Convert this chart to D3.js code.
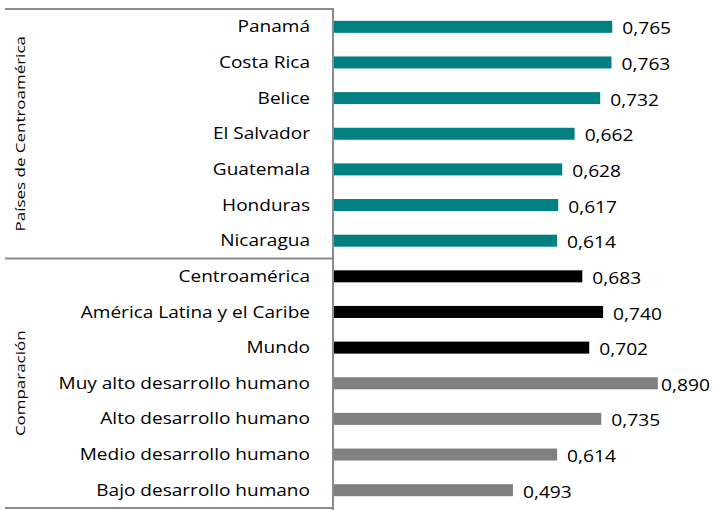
<!DOCTYPE html>
<html>
<head>
<meta charset="utf-8">
<script src="https://cdn.jsdelivr.net/npm/d3@7"></script>
<style>
  body { margin: 0; background: #fff; }
  text { font-family: "Open Sans", sans-serif; fill: #000; }
</style>
</head>
<body>
<div id="chart"></div>
<script>
const width = 715;
const height = 510;

// data
const countries = ['Panamá', 'Costa Rica', 'Belice', 'El Salvador', 'Guatemala', 'Honduras', 'Nicaragua'];
const countryValues = [0.765, 0.763, 0.732, 0.662, 0.628, 0.617, 0.614];
const regions = ['Centroamérica', 'América Latina y el Caribe', 'Mundo'];
const regionValues = [0.683, 0.740, 0.702];
const levels = ['Muy alto desarrollo humano', 'Alto desarrollo humano', 'Medio desarrollo humano', 'Bajo desarrollo humano'];
const levelValues = [0.890, 0.735, 0.614, 0.493];
const groups = ['Países de Centroamérica', 'Comparación'];

const rows = [];
countries.forEach((c, i) => rows.push({name: c, value: countryValues[i], kind: 'pais', group: 0}));
regions.forEach((c, i) => rows.push({name: c, value: regionValues[i], kind: 'region', group: 1}));
levels.forEach((c, i) => rows.push({name: c, value: levelValues[i], kind: 'nivel', group: 1}));

const colors = {pais: '#008080', region: '#000000', nivel: '#808080'};
const axisX = 333;
const plotTop = 9, plotBottom = 508;
const lineColor = '#8c8c8c';
const valScale = 1.2;

const svg = d3.select('#chart').append('svg')
  .attr('width', width)
  .attr('height', height);

const x = d3.scaleLinear()
  .domain([0, 1])
  .range([axisX, axisX + 365]);

const y = d3.scaleBand()
  .domain(rows.map(d => d.name))
  .range([plotTop, plotBottom])
  .paddingInner(0.66)
  .paddingOuter(0.33);

// bars
svg.selectAll('rect.bar')
  .data(rows)
  .join('rect')
  .attr('class', 'bar')
  .attr('x', x(0))
  .attr('y', d => y(d.name) + (y.bandwidth() - 12) / 2)
  .attr('width', d => x(d.value) - x(0))
  .attr('height', 12)
  .attr('fill', d => colors[d.kind]);

// value labels (text in the original is wide, so stretch a bit)
svg.selectAll('text.val')
  .data(rows)
  .join('text')
  .attr('class', 'val')
  .attr('dy', '0.35em')
  .style('font-size', '16px')
  .text(d => d3.format('.3f')(d.value).replace('.', ','))
  .attr('transform', function(d) {
    const w = this.getComputedTextLength() * valScale;
    // pull the label in when it would run off the right edge
    const lx = Math.min(x(d.value) + 10, width - 5 - w);
    return `translate(${lx},${y(d.name) + y.bandwidth() / 2 + 2}) scale(${valScale},1)`;
  });

// category labels
svg.selectAll('text.cat')
  .data(rows)
  .join('text')
  .attr('class', 'cat')
  .attr('transform', d => `translate(310,${y(d.name) + y.bandwidth() / 2}) scale(1.19,1)`)
  .attr('dy', '0.35em')
  .attr('text-anchor', 'end')
  .style('font-size', '16px')
  .text(d => d.name);

// frame: axis line and group separators
const step = y.step();
const sepY = [plotTop, y(rows[countries.length].name) - y.paddingInner() * step / 2, plotBottom];

svg.append('line')
  .attr('x1', axisX).attr('x2', axisX)
  .attr('y1', plotTop - 1).attr('y2', height)
  .attr('stroke', lineColor).attr('stroke-width', 2);

svg.selectAll('line.sep')
  .data(sepY)
  .join('line')
  .attr('class', 'sep')
  .attr('x1', 5).attr('x2', axisX)
  .attr('y1', d => d).attr('y2', d => d)
  .attr('stroke', lineColor).attr('stroke-width', 2);

// group labels, rotated
svg.selectAll('text.group')
  .data(groups)
  .join('text')
  .attr('class', 'group')
  .attr('transform', (d, i) => `translate(21,${(sepY[i] + sepY[i + 1]) / 2}) rotate(-90) scale(1.06,0.8)`)
  .attr('text-anchor', 'middle')
  .attr('dy', '0.35em')
  .style('font-size', '16px')
  .text(d => d);
</script>
</body>
</html>
